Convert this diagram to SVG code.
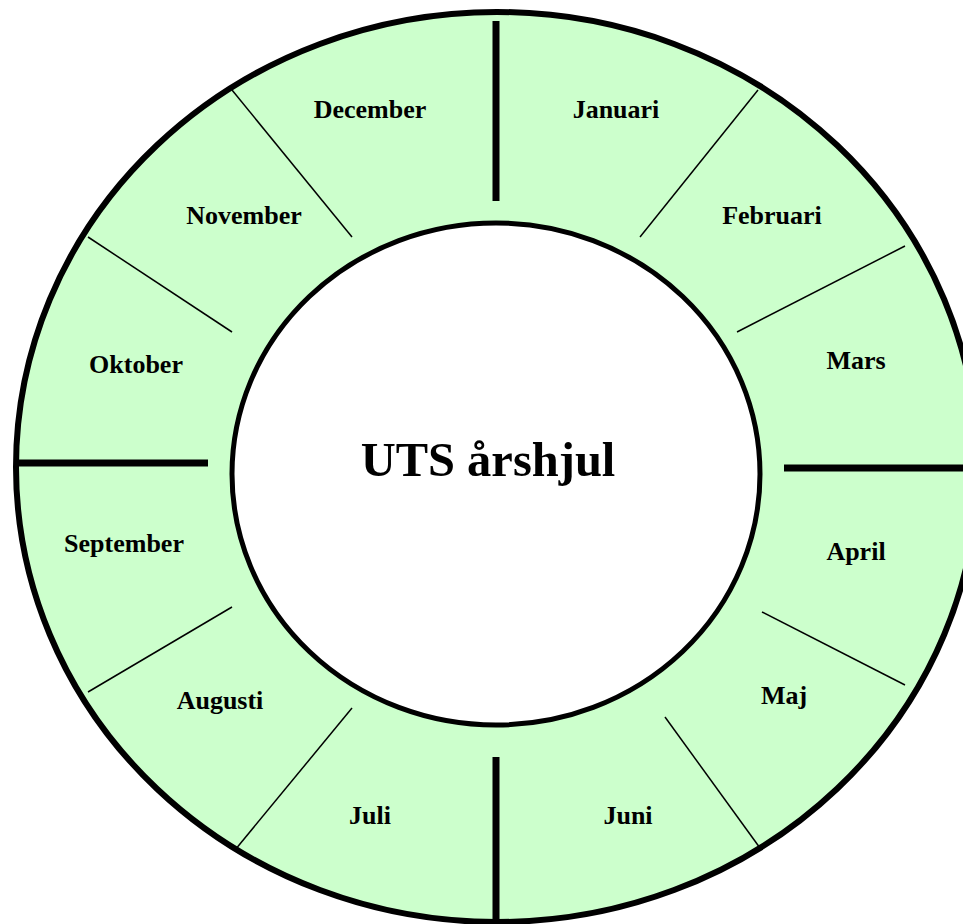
<svg xmlns="http://www.w3.org/2000/svg" width="963" height="924" viewBox="0 0 963 924">
<style>
.lbl{font-family:"Liberation Serif","Times New Roman",serif;font-weight:bold;font-size:26px;fill:#000;text-anchor:middle}
.title{font-family:"Liberation Serif","Times New Roman",serif;font-weight:bold;font-size:48.5px;fill:#000;text-anchor:middle}
.thin{stroke:#000;stroke-width:1.5;fill:none}
.thick{stroke:#000;stroke-width:7;fill:none}
</style>
<rect width="963" height="924" fill="#fff"/>
<g id="ring">
<ellipse cx="497" cy="467" rx="481" ry="455" fill="#CCFFCC" stroke="#000" stroke-width="6"/>
</g>
<g id="connectors">
<line class="thick" x1="496" y1="21" x2="496" y2="201"/>
<line class="thick" x1="496" y1="757" x2="496" y2="921"/>
<line class="thick" x1="17" y1="463" x2="208" y2="463"/>
<line class="thick" x1="784" y1="468" x2="963" y2="468"/>
<line class="thin" x1="232" y1="90" x2="352" y2="237"/>
<line class="thin" x1="88" y1="237" x2="232" y2="332"/>
<line class="thin" x1="758" y1="90" x2="640" y2="237"/>
<line class="thin" x1="905" y1="246" x2="737" y2="332"/>
<line class="thin" x1="762" y1="612" x2="905" y2="685"/>
<line class="thin" x1="665" y1="717" x2="760" y2="848"/>
<line class="thin" x1="352" y1="708" x2="235" y2="850"/>
<line class="thin" x1="232" y1="607" x2="88" y2="692"/>
</g>
<g id="center">
<ellipse cx="496" cy="474" rx="264" ry="251" fill="#fff" stroke="#000" stroke-width="5"/>
<text class="title" x="488" y="476">UTS årshjul</text>
</g>
<g id="januari"><text class="lbl" x="616" y="118">Januari</text></g>
<g id="februari"><text class="lbl" x="772" y="224">Februari</text></g>
<g id="mars"><text class="lbl" x="856" y="369">Mars</text></g>
<g id="april"><text class="lbl" x="856" y="560">April</text></g>
<g id="maj"><text class="lbl" x="784" y="704">Maj</text></g>
<g id="juni"><text class="lbl" x="628" y="824">Juni</text></g>
<g id="juli"><text class="lbl" x="370" y="824">Juli</text></g>
<g id="augusti"><text class="lbl" x="220" y="709">Augusti</text></g>
<g id="september"><text class="lbl" x="124" y="552">September</text></g>
<g id="oktober"><text class="lbl" x="136" y="373">Oktober</text></g>
<g id="november"><text class="lbl" x="244" y="224">November</text></g>
<g id="december"><text class="lbl" x="370" y="118">December</text></g>
</svg>
